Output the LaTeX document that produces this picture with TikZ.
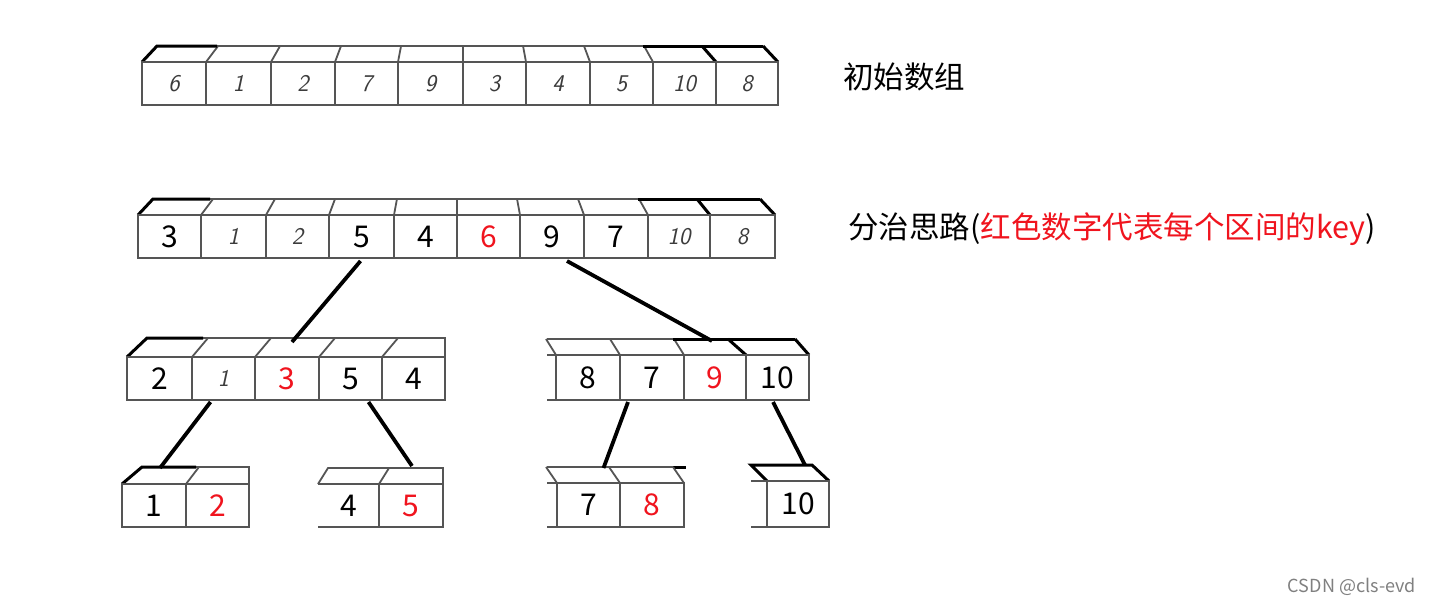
\documentclass[tikz,border=0pt]{standalone}
\usepackage{fontspec}
\usetikzlibrary{calc}
\newfontfamily\cjk{Noto Sans CJK SC}
\definecolor{boxgray}{RGB}{85,85,85}
\definecolor{keyred}{RGB}{240,20,30}
\definecolor{handgray}{RGB}{60,60,60}
\newcommand\cellnode[7]{\node[cell,#6,minimum width={#3-#2},minimum height={#5-#4},anchor=north west] (#1) at (#2,#4) {#7};}
\tikzset{
  cell/.style={draw=boxgray,line width=1.8pt,inner sep=0pt,outer sep=0pt,fill=white},
  num/.style={font=\cjk\fontsize{30}{30}\selectfont,text=black},
  rednum/.style={font=\cjk\fontsize{30}{30}\selectfont,text=keyred},
  hand/.style={font=\sffamily\slshape\fontsize{24}{24}\selectfont,text=handgray},
  face/.style={draw=boxgray,line width=1.8pt},
  bold/.style={draw=black,line width=3pt},
  conn/.style={draw=black,line width=3.8pt},
  label/.style={font=\cjk\fontsize{30.5}{30.5}\selectfont,anchor=west,inner sep=0pt}
}
\begin{document}
\begin{tikzpicture}[x=1pt,y=-1pt]
\useasboundingbox (0,0) rectangle (1431,605);
\fill[white] (0,0) rectangle (1431,605);

% ---------- Row 1 : initial array ----------
\draw[face] (157,46) -- (763,46);
\foreach \xx in {206,271,335,398,463,526,590,653}
  \draw[face] (\xx,62) -- ({\xx+0.047*(463-\xx)},46);
\draw[bold] (142,62) -- (157,46) -- (217,46);
\draw[bold] (643,46) -- (763,46);
\draw[bold] (702,46) -- (716,62);
\draw[bold] (763,46) -- (778,62);
\cellnode{r1c1}{142}{206}{62}{105}{hand}{6}
\cellnode{r1c2}{206}{271}{62}{105}{hand}{1}
\cellnode{r1c3}{271}{335}{62}{105}{hand}{2}
\cellnode{r1c4}{335}{398}{62}{105}{hand}{7}
\cellnode{r1c5}{398}{463}{62}{105}{hand}{9}
\cellnode{r1c6}{463}{526}{62}{105}{hand}{3}
\cellnode{r1c7}{526}{590}{62}{105}{hand}{4}
\cellnode{r1c8}{590}{653}{62}{105}{hand}{5}
\cellnode{r1c9}{653}{716}{62}{105}{hand}{10}
\cellnode{r1c10}{716}{778}{62}{105}{hand}{8}

% ---------- Row 2 ----------
\draw[face] (153,199) -- (760,199);
\foreach \xx in {201,266,329,394,457,520,584,648}
  \draw[face] (\xx,215) -- ({\xx+0.047*(457-\xx)},199);
\draw[bold] (138,215) -- (153,199) -- (210,199);
\draw[bold] (638,199) -- (760,199);
\draw[bold] (697,199) -- (710,215);
\draw[bold] (760,199) -- (775,215);
\cellnode{r2c1}{138}{201}{215}{258}{num}{3}
\cellnode{r2c2}{201}{266}{215}{258}{hand}{1}
\cellnode{r2c3}{266}{329}{215}{258}{hand}{2}
\cellnode{r2c4}{329}{394}{215}{258}{num}{5}
\cellnode{r2c5}{394}{457}{215}{258}{num}{4}
\cellnode{r2c6}{457}{520}{215}{258}{rednum}{6}
\cellnode{r2c7}{520}{584}{215}{258}{num}{9}
\cellnode{r2c8}{584}{648}{215}{258}{num}{7}
\cellnode{r2c9}{648}{710}{215}{258}{hand}{10}
\cellnode{r2c10}{710}{775}{215}{258}{hand}{8}

% ---------- Row 3 left ----------
\draw[face] (147,338) -- (445,338) -- (445,357);
\foreach \xx in {192,255,319,382}
  \draw[face] (\xx,357) -- (\xx+16,338);
\draw[bold] (127,357) -- (147,338) -- (203,338);
\cellnode{r3a1}{127}{192}{357}{400}{num}{2}
\cellnode{r3a2}{192}{255}{357}{400}{hand}{1}
\cellnode{r3a3}{255}{319}{357}{400}{rednum}{3}
\cellnode{r3a4}{319}{382}{357}{400}{num}{5}
\cellnode{r3a5}{382}{445}{357}{400}{num}{4}

% ---------- Row 3 right ----------
\draw[face] (547,339) -- (673,339);
\foreach \xx in {556,620,684}
  \draw[face] (\xx,355) -- (\xx-10,339);
\draw[face] (547,355) -- (556,355);
\draw[face] (547,400) -- (556,400);
\draw[bold] (673,339) -- (795,339);
\draw[bold] (728,339) -- (746,355);
\draw[bold] (795,339) -- (809,355);
\cellnode{r3b1}{556}{620}{355}{400}{num}{8}
\cellnode{r3b2}{620}{684}{355}{400}{num}{7}
\cellnode{r3b3}{684}{746}{355}{400}{rednum}{9}
\cellnode{r3b4}{746}{809}{355}{400}{num}{10}

% ---------- Row 4 ----------
% pair 1 2
\draw[face] (196,467) -- (249,467) -- (249,484);
\draw[face] (186,484) -- (199,467);
\draw[bold] (122,484) -- (142,467) -- (196,467);
\cellnode{r4a1}{122}{186}{484}{527}{num}{1}
\cellnode{r4a2}{186}{249}{484}{527}{rednum}{2}
% pair 4 5
\draw[face] (318,484) -- (328,468) -- (443,468) -- (443,484);
\draw[face] (379,484) -- (389,468);
\node[num,inner sep=0pt,minimum width=61pt,minimum height=43pt,anchor=north west] (r4b1) at (318,484) {4};
\draw[face] (318,484) -- (379,484);
\draw[face] (318,527) -- (379,527);
\cellnode{r4b2}{379}{443}{484}{527}{rednum}{5}
% pair 7 8
\draw[face] (547,467) -- (673,467);
\draw[bold] (673,467) -- (686,467);
\foreach \xx in {557,620,684}
  \draw[face] (\xx,483) -- (\xx-11,467);
\draw[face] (547,483) -- (557,483);
\draw[face] (547,527) -- (557,527);
\cellnode{r4c1}{557}{620}{483}{527}{num}{7}
\cellnode{r4c2}{620}{684}{483}{527}{rednum}{8}
% single 10
\draw[bold] (767,481) -- (751,465) -- (812,465) -- (829,481);
\draw[face] (751,481) -- (767,481);
\draw[face] (751,527) -- (767,527);
\cellnode{r4d1}{767}{829}{481}{527}{num}{10}

% ---------- connectors ----------
\draw[conn] ($(r2c4.south)+(-1,3)$) -- ($(r3a3.north)+(5,-15)$);
\draw[conn] ($(r2c7.south)+(15,3)$) -- ($(r3b3.north)+(-3,-14)$);
\draw[conn] ($(r3a2.south)+(-13,2)$) -- ($(r4a1.north)+(6,-16)$);
\draw[conn] ($(r3a4.south)+(18,2)$) -- ($(r4b2.north)+(1,-18)$);
\draw[conn] ($(r3b2.south)+(-24,2)$) -- ($(r4c1.north)+(15,-15)$);
\draw[conn] ($(r3b4.south)+(-4.5,2)$) -- ($(r4d1.north)+(7,-16)$);

% ---------- labels ----------
\node[label] (t1) at (843,77) {初始数组};
\node[label] (t2) at (848,229) {分治思路(\textcolor{keyred}{红色数字代表每个区间的key})};
\node[font=\cjk\fontsize{18}{18}\selectfont,text=gray,anchor=east,inner sep=0pt] (wm) at (1416,587) {CSDN @cls-evd};
\end{tikzpicture}
\end{document}
